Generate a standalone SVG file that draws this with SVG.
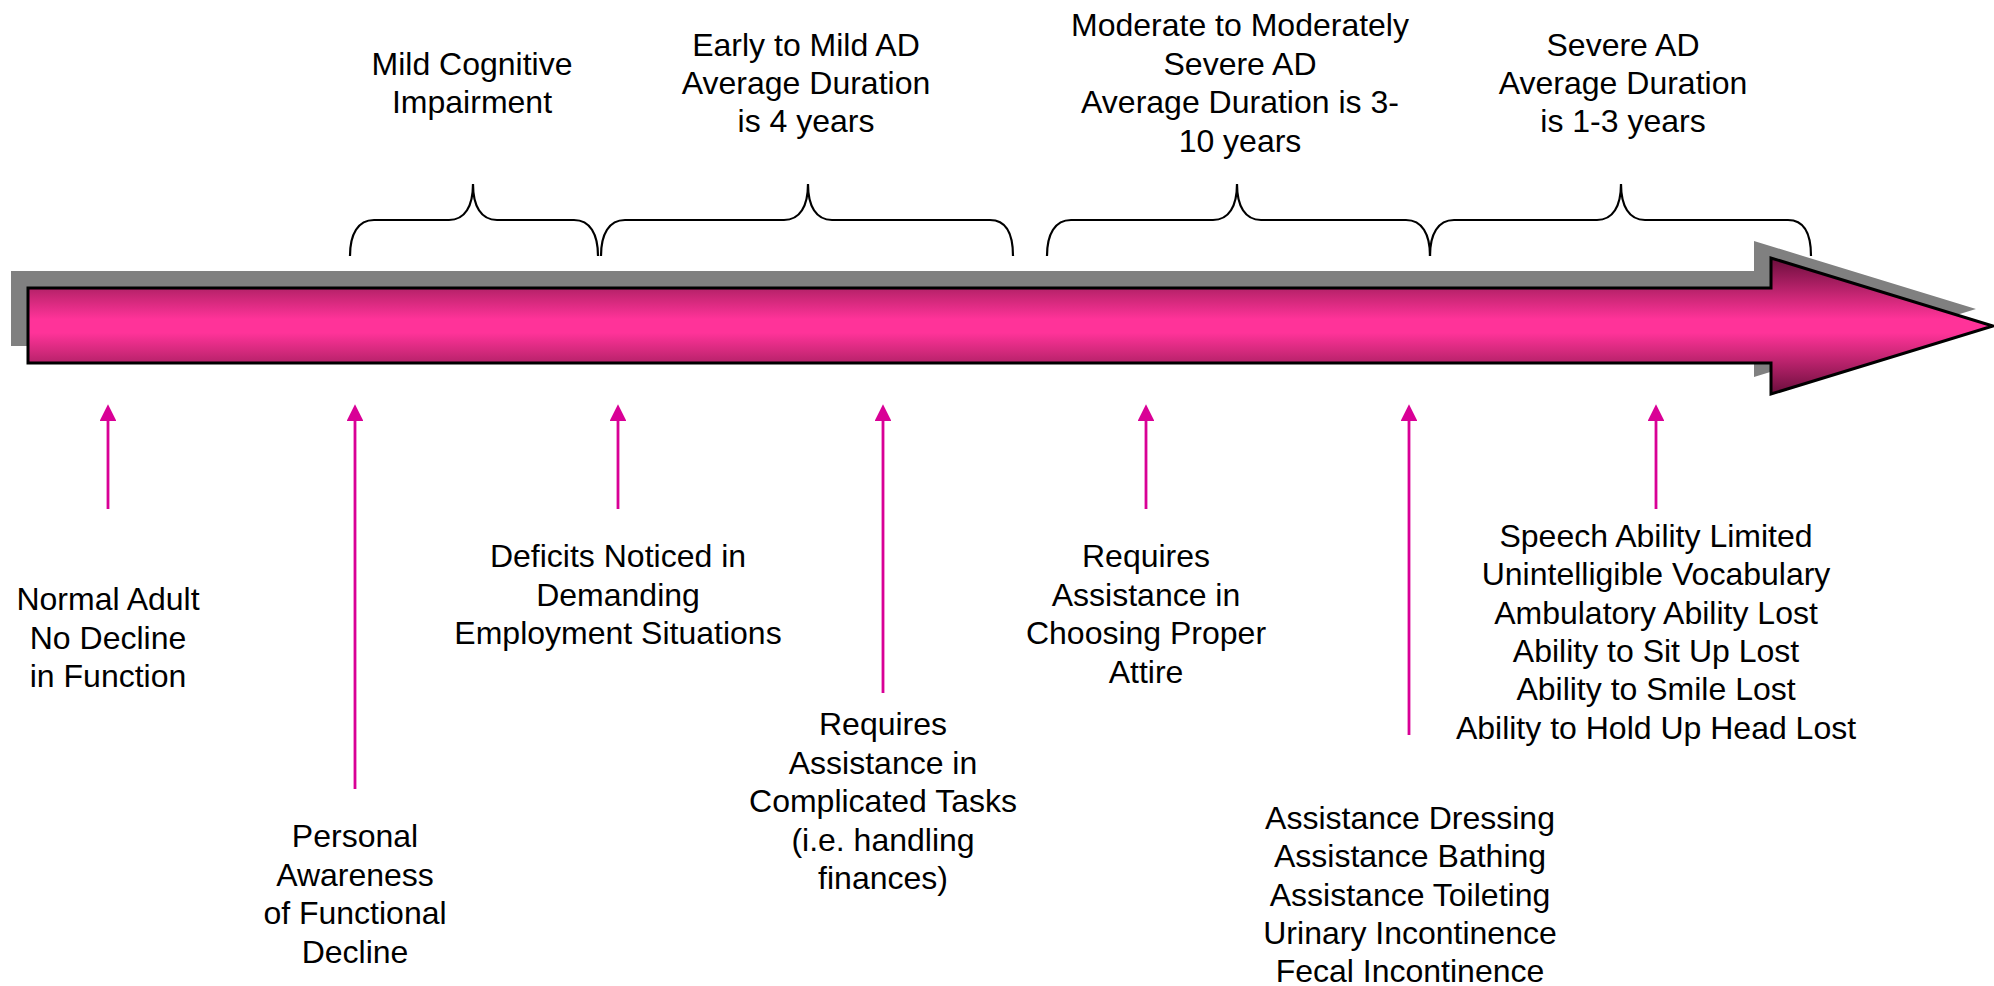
<svg xmlns="http://www.w3.org/2000/svg" width="1994" height="986" viewBox="0 0 1994 986">
<defs>
<linearGradient id="pinkGrad" x1="0" y1="0" x2="0" y2="1">
<stop offset="0" stop-color="#6a0e3c"/>
<stop offset="0.3" stop-color="#cf2879"/>
<stop offset="0.45" stop-color="#ff3399"/>
<stop offset="0.55" stop-color="#ff3399"/>
<stop offset="0.7" stop-color="#cf2879"/>
<stop offset="1" stop-color="#6a0e3c"/>
</linearGradient>
<marker id="tri" markerWidth="6" markerHeight="6" viewBox="0 0 6 6" refX="0" refY="3" orient="auto" markerUnits="strokeWidth">
<path d="M0,0 L6,3 L0,6 Z" fill="#d90096"/>
</marker>
</defs>
<style>
text{font-family:"Liberation Sans",Arial,sans-serif;font-size:32px;fill:#000;text-anchor:middle}
.brace{fill:none;stroke:#000;stroke-width:2.2}
.pin{stroke:#d90096;stroke-width:2.8;fill:none;marker-end:url(#tri)}
</style>
<rect width="1994" height="986" fill="#fff"/>
<g id="timeline-arrow">
<polygon points="11,271 1754,271 1754,241 1976,309 1754,377 1754,346 11,346" fill="#808080"/>
<polygon points="28,288 1771,288 1771,258 1993,326 1771,394 1771,363 28,363" fill="url(#pinkGrad)" stroke="#000" stroke-width="3" stroke-linejoin="miter"/>
</g>
<g id="braces">
<path class="brace" d="M350,256 C350,234 358,220 374,220 L449,220 C465,220 473,206 473,184 C473,206 481,220 497,220 L574,220 C590,220 598,234 598,256"/>
<path class="brace" d="M601,256 C601,234 609,220 625,220 L784,220 C800,220 808,206 808,184 C808,206 816,220 832,220 L990,220 C1006,220 1013,234 1013,256"/>
<path class="brace" d="M1047,256 C1047,234 1055,220 1071,220 L1213,220 C1229,220 1237,206 1237,184 C1237,206 1245,220 1261,220 L1406,220 C1422,220 1430,234 1430,256"/>
<path class="brace" d="M1430,256 C1430,234 1438,220 1454,220 L1597,220 C1613,220 1621,206 1621,184 C1621,206 1629,220 1645,220 L1788,220 C1804,220 1811,234 1811,256"/>
</g>
<g id="connectors">
<line class="pin" x1="108" y1="509" x2="108" y2="421"/>
<line class="pin" x1="355" y1="789" x2="355" y2="421"/>
<line class="pin" x1="618" y1="509" x2="618" y2="421"/>
<line class="pin" x1="883" y1="693" x2="883" y2="421"/>
<line class="pin" x1="1146" y1="509" x2="1146" y2="421"/>
<line class="pin" x1="1409" y1="735" x2="1409" y2="421"/>
<line class="pin" x1="1656" y1="509" x2="1656" y2="421"/>
</g>
<g id="stage-mci">
<text x="472" y="75">Mild Cognitive</text>
<text x="472" y="113.4">Impairment</text>
</g>
<g id="stage-early">
<text x="806" y="55.6">Early to Mild AD</text>
<text x="806" y="94">Average Duration</text>
<text x="806" y="132.4">is 4 years</text>
</g>
<g id="stage-moderate">
<text x="1240" y="36.4">Moderate to Moderately</text>
<text x="1240" y="74.8">Severe AD</text>
<text x="1240" y="113.2">Average Duration is 3-</text>
<text x="1240" y="151.6">10 years</text>
</g>
<g id="stage-severe">
<text x="1623" y="55.6">Severe AD</text>
<text x="1623" y="94">Average Duration</text>
<text x="1623" y="132.4">is 1-3 years</text>
</g>
<g id="event-normal">
<text x="108" y="610">Normal Adult</text>
<text x="108" y="648.5">No Decline</text>
<text x="108" y="687">in Function</text>
</g>
<g id="event-awareness">
<text x="355" y="847">Personal</text>
<text x="355" y="885.5">Awareness</text>
<text x="355" y="924">of Functional</text>
<text x="355" y="962.5">Decline</text>
</g>
<g id="event-deficits">
<text x="618" y="567">Deficits Noticed in</text>
<text x="618" y="605.5">Demanding</text>
<text x="618" y="644">Employment Situations</text>
</g>
<g id="event-complicated">
<text x="883" y="735">Requires</text>
<text x="883" y="773.5">Assistance in</text>
<text x="883" y="812">Complicated Tasks</text>
<text x="883" y="850.5">(i.e. handling</text>
<text x="883" y="889">finances)</text>
</g>
<g id="event-attire">
<text x="1146" y="567">Requires</text>
<text x="1146" y="605.5">Assistance in</text>
<text x="1146" y="644">Choosing Proper</text>
<text x="1146" y="682.5">Attire</text>
</g>
<g id="event-adl">
<text x="1410" y="829">Assistance Dressing</text>
<text x="1410" y="867.3">Assistance Bathing</text>
<text x="1410" y="905.6">Assistance Toileting</text>
<text x="1410" y="943.9">Urinary Incontinence</text>
<text x="1410" y="982.2">Fecal Incontinence</text>
</g>
<g id="event-severe">
<text x="1656" y="547">Speech Ability Limited</text>
<text x="1656" y="585.3">Unintelligible Vocabulary</text>
<text x="1656" y="623.6">Ambulatory Ability Lost</text>
<text x="1656" y="661.9">Ability to Sit Up Lost</text>
<text x="1656" y="700.2">Ability to Smile Lost</text>
<text x="1656" y="738.5">Ability to Hold Up Head Lost</text>
</g>
</svg>
